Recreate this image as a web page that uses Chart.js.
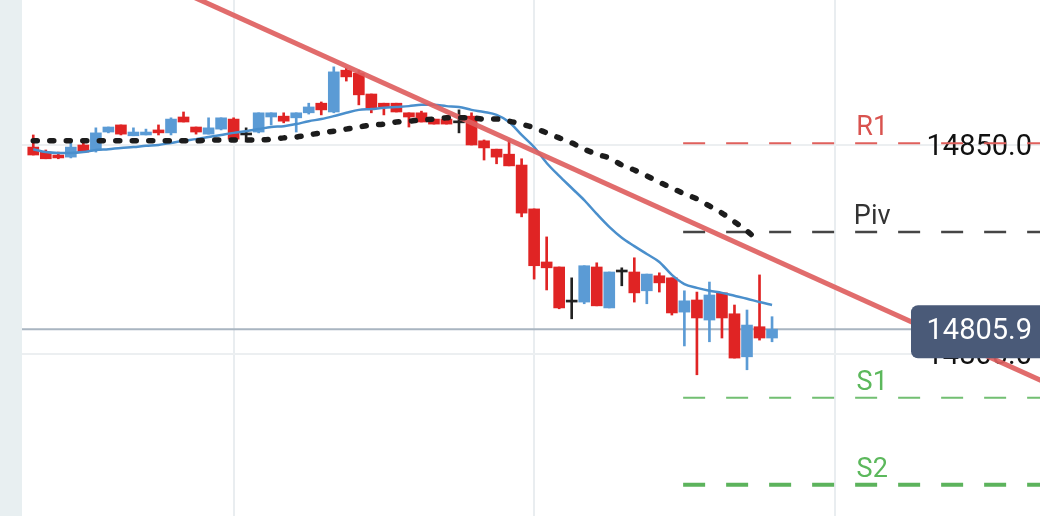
<!DOCTYPE html>
<html>
<head>
<meta charset="utf-8">
<script src="https://cdn.jsdelivr.net/npm/chart.js@4.4.1/dist/chart.umd.min.js"></script>
<style>
  html, body { margin: 0; padding: 0; background: #fff; }
  #wrap { display: flex; width: 1040px; height: 516px; overflow: hidden; }
  #side { width: 22px; height: 516px; background: #e8eff1; }
  #box { width: 1018px; height: 516px; }
</style>
</head>
<body>
<div id="wrap"><div id="side"></div><div id="box"><canvas id="chart" width="1018" height="516"></canvas></div></div>
<script>
// candles, oldest first (x = bar index)
var opens = [14849.5, 14848.3, 14847.6, 14847.1, 14850.0, 14848.8, 14853.1, 14854.8, 14852.2, 14852.4,
    14853.6, 14852.9, 14856.7, 14854.3, 14852.6, 14853.8, 14856.2, 14852.4, 14853.1, 14856.7,
    14856.9, 14856.5, 14857.7, 14860.0, 14857.9, 14867.9, 14867.2, 14862.2, 14860.0, 14860.0,
    14857.7, 14857.7, 14856.2, 14856.2, 14855.3, 14856.9, 14851.0, 14849.0, 14847.8, 14845.2,
    14834.7, 14822.0, 14820.8, 14812.4, 14812.4, 14820.8, 14811.0, 14819.6, 14819.6, 14815.1,
    14818.7, 14818.2, 14810.0, 14812.9, 14808.1, 14814.6, 14809.6, 14799.3, 14806.5, 14803.8];
var highs = [14852.4, 14848.8, 14848.3, 14851.4, 14851.4, 14854.1, 14854.3, 14854.8, 14854.1, 14853.8,
    14854.8, 14856.5, 14857.9, 14854.3, 14856.5, 14856.5, 14856.5, 14854.1, 14857.7, 14857.7,
    14857.7, 14857.7, 14860.0, 14860.3, 14868.7, 14868.4, 14867.9, 14862.2, 14860.0, 14860.0,
    14857.7, 14858.1, 14856.2, 14856.2, 14858.4, 14857.7, 14851.2, 14849.0, 14851.2, 14846.7,
    14834.7, 14828.0, 14820.8, 14818.2, 14821.1, 14821.8, 14819.6, 14820.6, 14823.0, 14819.1,
    14819.4, 14818.2, 14815.1, 14814.8, 14817.2, 14814.6, 14811.7, 14810.5, 14818.9, 14808.9];
var lows = [14847.6, 14846.7, 14846.7, 14846.9, 14848.3, 14848.3, 14852.9, 14852.4, 14852.2, 14852.4,
    14852.4, 14852.4, 14855.5, 14852.6, 14852.6, 14853.6, 14851.0, 14850.7, 14852.9, 14854.8,
    14855.3, 14853.1, 14857.4, 14857.2, 14857.7, 14865.3, 14859.6, 14857.7, 14857.2, 14857.9,
    14854.3, 14855.5, 14855.0, 14855.0, 14852.9, 14850.0, 14846.4, 14845.5, 14845.0, 14832.8,
    14817.9, 14815.3, 14810.8, 14808.4, 14812.0, 14811.5, 14811.0, 14816.3, 14812.4, 14812.0,
    14814.8, 14809.3, 14801.9, 14795.0, 14802.9, 14803.8, 14799.0, 14796.2, 14803.3, 14802.9];
var closes = [14847.6, 14846.7, 14846.9, 14849.5, 14848.3, 14852.9, 14854.3, 14852.6, 14853.1, 14853.1,
    14852.9, 14856.2, 14855.5, 14853.1, 14854.1, 14856.5, 14851.4, 14852.4, 14857.7, 14857.7,
    14855.7, 14857.7, 14859.1, 14858.4, 14867.5, 14866.3, 14862.0, 14858.9, 14859.1, 14857.9,
    14856.7, 14855.5, 14855.0, 14855.0, 14855.3, 14850.0, 14849.3, 14847.1, 14845.0, 14833.7,
    14821.1, 14820.6, 14811.0, 14812.4, 14821.1, 14811.5, 14819.6, 14819.6, 14814.6, 14819.1,
    14817.0, 14809.8, 14812.7, 14808.6, 14814.1, 14808.6, 14799.0, 14806.9, 14803.8, 14805.9];

// moving averages
var maFast = [14849.0, 14848.3, 14848.1, 14848.1, 14848.3, 14848.8, 14849.0, 14849.3, 14849.5, 14849.8,
    14850.0, 14850.5, 14851.0, 14851.4, 14851.9, 14852.4, 14852.9, 14853.3, 14853.8, 14854.3,
    14854.5, 14855.0, 14855.7, 14856.2, 14856.9, 14857.7, 14858.4, 14858.6, 14858.9, 14859.1,
    14859.3, 14859.6, 14859.6, 14859.3, 14859.1, 14858.4, 14857.9, 14857.2, 14855.5, 14852.4,
    14849.5, 14845.7, 14842.6, 14839.7, 14836.8, 14833.5, 14830.4, 14827.8, 14825.8, 14823.9,
    14822.0, 14818.9, 14816.7, 14815.8, 14815.1, 14814.6, 14813.9, 14813.2, 14812.4, 14811.7];
var maSlow = [14851.0, 14851.0, 14851.0, 14851.0, 14851.0, 14851.0, 14851.0, 14851.0, 14851.0, 14851.0,
    14851.0, 14851.0, 14851.0, 14851.0, 14851.2, 14851.2, 14851.2, 14851.2, 14851.2, 14851.4,
    14851.7, 14851.9, 14852.4, 14852.9, 14853.3, 14853.8, 14854.3, 14854.8, 14855.0, 14855.5,
    14855.7, 14856.0, 14856.2, 14856.5, 14856.5, 14856.5, 14856.2, 14856.2, 14855.7, 14855.0,
    14854.1, 14852.9, 14851.7, 14850.5, 14849.0, 14847.8, 14846.9, 14845.2, 14844.0, 14842.6,
    14841.1, 14839.7, 14838.3, 14837.1, 14835.4, 14833.7, 14831.6, 14829.4, 14826.8];

// pivot levels
var pivotNames = ['R1', 'Piv', 'S1', 'S2'];
var pivotValues = [14850.4, 14829.2, 14789.5, 14768.7];
var pivotFrom = 51.9;

// trend line end points
var trendX = [10, 82];
var trendY = [14889.2, 14791.6];

var lastPrice = 14805.9;

// visible window and grid
var xMin = -0.9, xMax = 80.4;
var yMin = 14761.2, yMax = 14884.7;
var xGridAt = [16, 40, 64];

var UP = '#5b9bd5', DOWN = '#e02424', FLAT = '#222222';
var pivotLineColors = ['#e0605c', '#454545', '#72bf72', '#5cb35c'];
var pivotTextColors = ['#d9534f', '#333333', '#5cb85c', '#5cb85c'];
var pivotWidths = [2, 2.5, 2, 4];

function candleColor(ctx) {
    var i = ctx.dataIndex;
    if (closes[i] > opens[i]) return UP;
    if (closes[i] < opens[i]) return DOWN;
    return FLAT;
}

var bodies = [], wicks = [];
for (var i = 0; i < opens.length; i++) {
    bodies.push({ x: i, y: [opens[i], closes[i]] });
    wicks.push({ x: i, y: [lows[i], highs[i]] });
}
function series(arr) {
    var out = [];
    for (var k = 0; k < arr.length; k++) out.push({ x: k, y: arr[k] });
    return out;
}

var datasets = [];
for (var p = 0; p < pivotValues.length; p++) {
    datasets.push({
        type: 'line',
        data: [{ x: pivotFrom, y: pivotValues[p] }, { x: xMax, y: pivotValues[p] }],
        borderColor: pivotLineColors[p],
        borderWidth: pivotWidths[p],
        borderDash: [22, 21],
        pointRadius: 0,
        order: 10
    });
}
datasets.push({
    type: 'line',
    data: [{ x: xMin, y: lastPrice }, { x: xMax, y: lastPrice }],
    borderColor: '#a9b5c1',
    borderWidth: 2,
    pointRadius: 0,
    order: 9
});
datasets.push({
    type: 'bar',
    data: wicks,
    backgroundColor: candleColor,
    barThickness: 2,
    grouped: false,
    order: 8
});
datasets.push({
    type: 'bar',
    data: bodies,
    backgroundColor: candleColor,
    barThickness: 11,
    minBarLength: 2,
    grouped: false,
    order: 7
});
datasets.push({
    type: 'line',
    data: series(maFast),
    borderColor: '#4a8fcc',
    borderWidth: 2.5,
    pointRadius: 0,
    cubicInterpolationMode: 'monotone',
    order: 6
});
datasets.push({
    type: 'line',
    data: [{ x: trendX[0], y: trendY[0] }, { x: trendX[1], y: trendY[1] }],
    borderColor: 'rgba(222, 96, 96, 0.92)',
    borderWidth: 5,
    pointRadius: 0,
    order: 5
});
datasets.push({
    type: 'line',
    data: series(maSlow),
    borderColor: '#1c1c1c',
    borderWidth: 5.5,
    borderDash: [4, 12.5],
    borderCapStyle: 'round',
    pointRadius: 0,
    cubicInterpolationMode: 'monotone',
    order: 4
});

// pivot names and the last price tag
var overlay = {
    id: 'overlay',
    afterDatasetsDraw: function (chart) {
        var ctx = chart.ctx, xs = chart.scales.x, ys = chart.scales.y;
        ctx.save();
        ctx.font = '27px Roboto';
        ctx.textAlign = 'center';
        ctx.textBaseline = 'alphabetic';
        for (var j = 0; j < pivotNames.length; j++) {
            ctx.fillStyle = pivotTextColors[j];
            ctx.fillText(pivotNames[j], xs.getPixelForValue(67), ys.getPixelForValue(pivotValues[j]) - 8);
        }
        var py = ys.getPixelForValue(lastPrice);
        var right = chart.chartArea.right;
        ctx.fillStyle = '#4a5a78';
        ctx.beginPath();
        ctx.roundRect(right - 129, py - 24, 145, 53, 7);
        ctx.fill();
        ctx.fillStyle = '#ffffff';
        ctx.font = '29px Roboto';
        ctx.textAlign = 'right';
        ctx.textBaseline = 'middle';
        ctx.fillText(lastPrice.toFixed(1), right - 8, py + 3);
        ctx.restore();
    }
};

var chart = new Chart(document.getElementById('chart').getContext('2d'), {
    type: 'line',
    data: { datasets: datasets },
    options: {
        responsive: false,
        animation: false,
        layout: { padding: 0 },
        plugins: { legend: { display: false }, tooltip: { enabled: false } },
        scales: {
            x: {
                type: 'linear',
                min: xMin,
                max: xMax,
                offset: false,
                border: { display: false },
                grid: { color: '#e9edf0', lineWidth: 2, drawTicks: false, offset: false },
                ticks: { display: false },
                afterBuildTicks: function (scale) {
                    scale.ticks = xGridAt.map(function (v) { return { value: v }; });
                }
            },
            y: {
                type: 'linear',
                position: 'right',
                min: yMin,
                max: yMax,
                border: { display: false },
                grid: { color: '#eceff1', lineWidth: 2, drawTicks: false },
                ticks: {
                    stepSize: 50,
                    includeBounds: false,
                    mirror: true,
                    padding: -8,
                    labelOffset: 3,
                    color: '#111111',
                    font: { family: 'Roboto', size: 29 },
                    callback: function (v) { return Number(v).toFixed(1); }
                },
                afterFit: function (scale) {
                    scale.width = 0;
                    scale.paddingTop = 0;
                    scale.paddingBottom = 0;
                }
            }
        }
    },
    plugins: [overlay]
});
</script>
</body>
</html>
